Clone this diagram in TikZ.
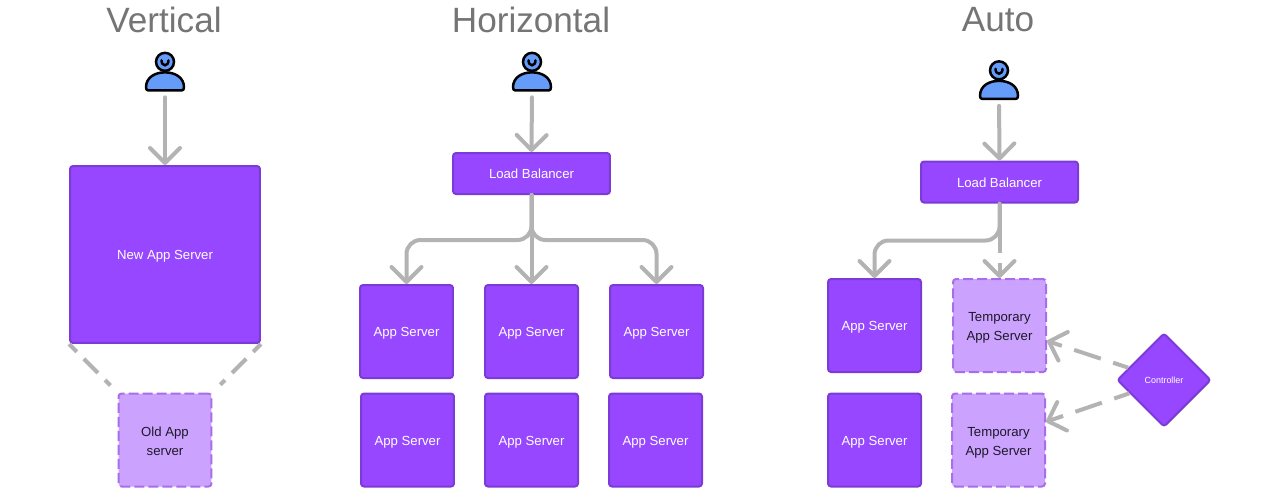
\documentclass[tikz,border=0pt]{standalone}
\usepackage{xcolor}
\usepackage{fontspec}
\setmainfont{Liberation Sans}
\usetikzlibrary{shapes.geometric, arrows.meta, positioning, calc}
\definecolor{apppurple}{RGB}{151, 71, 255}
\definecolor{appborder}{RGB}{124, 58, 214}
\definecolor{templilac}{RGB}{203, 163, 255}
\definecolor{tempborder}{RGB}{168, 108, 236}
\definecolor{linegray}{RGB}{179, 179, 179}
\definecolor{titlegray}{RGB}{117, 117, 117}
\definecolor{userblue}{RGB}{101, 156, 250}
\definecolor{labeldark}{RGB}{30, 24, 40}
\tikzset{
    titlelabel/.style={text=titlegray, font=\fontsize{20}{22}\selectfont},
    usernode/.style={inner sep=0pt, minimum width=0.8cm, minimum height=0.76cm},
    usericon/.pic={
        \draw[fill=userblue, line width=0.05cm, line join=round]
            (-19,-3) .. controls (-19,-13) and (-10,-18) .. (0,-18)
            .. controls (10,-18) and (19,-13) .. (19,-3)
            .. controls (19,-1) and (18,0) .. (17,0) -- (-17,0)
            .. controls (-18,0) and (-19,-1) .. (-19,-3) -- cycle;
        \draw[fill=userblue, line width=0.05cm] (0,-28.5) circle (9);
        \draw[line width=0.05cm, line cap=round] (-3.5,-30) .. controls (-3.5,-23.5) and (3.5,-23.5) .. (3.5,-30);
    },
    boxbase/.style={fill=apppurple, draw=appborder, line width=0.04cm, rounded corners=0.06cm,
        text=white, align=center, inner sep=0pt, minimum width=1.86cm, minimum height=1.86cm,
        font=\fontsize{7.5}{10.8}\selectfont},
    appbox/.style={boxbase, text height=6pt, text depth=0pt},
    lbbox/.style={appbox, minimum width=3.14cm, minimum height=0.82cm},
    tempbox/.style={boxbase, fill=templilac, draw=tempborder, dash pattern=on 0.2cm off 0.08cm,
        text=labeldark, text height=17.5pt, text depth=0pt},
    ctrlbox/.style={diamond, aspect=1, fill=apppurple, draw=appborder, line width=0.04cm, rounded corners=0.06cm,
        text=white, inner sep=0pt, minimum width=1.88cm, minimum height=1.88cm,
        font=\fontsize{5.1}{6}\selectfont},
    conn/.style={draw=linegray, line width=0.08cm, line cap=round,
        -{Straight Barb[length=0.3cm, width=0.6cm, round]}},
    dashconn/.style={conn, line cap=butt, dash pattern=on 0.56cm off 0.26cm, dash phase=0.24cm},
    fadeconn/.style={draw=linegray, line width=0.08cm, dash pattern=on 0.4cm off 0.2cm, dash phase=0.18cm}
}
\begin{document}
\begin{tikzpicture}[x=0.02cm, y=-0.02cm]
    \useasboundingbox (0,0) rectangle (1280,495);

    \node[titlelabel] (titleV) at (164,20) {Vertical};
    \node[titlelabel] (titleH) at (531,20) {Horizontal};
    \node[titlelabel] (titleA) at (998,20) {Auto};

    \node[usernode] (userV) at (165,71) {};
    \pic at (userV.south) {usericon};
    \node[appbox, minimum width=3.8cm, minimum height=3.54cm] (newApp) at (165,254.5) {New App Server};
    \node[tempbox] (oldApp) at (165,440) {Old App\\server};
    \draw[conn, shorten <=0.14cm] (userV.south) -- (newApp.north);
    \draw[fadeconn, shorten >=0.2cm] (newApp.south west) -- (oldApp.north west);
    \draw[fadeconn, shorten >=0.22cm] (newApp.south east) -- (oldApp.north east);

    \node[usernode] (userH) at (532,71) {};
    \pic at (userH.south) {usericon};
    \node[lbbox] (lbH) at (531.5,173.5) {Load Balancer};
    \node[appbox] (appHa) at (406.5,331.5) {App Server};
    \node[appbox] (appHb) at (531.5,331.5) {App Server};
    \node[appbox] (appHc) at (656.5,331.5) {App Server};
    \node[appbox] (appHd) at (407.5,440) {App Server};
    \node[appbox] (appHe) at (531.5,440) {App Server};
    \node[appbox] (appHf) at (655.5,440) {App Server};
    \draw[conn, shorten <=0.14cm] (userH.south) -- (lbH.north);
    \draw[conn] (lbH.south) -- (appHb.north);
    \draw[conn, rounded corners=0.28cm] (lbH.south) -- ++(0,45) -| (appHa.north);
    \draw[conn, rounded corners=0.28cm] (lbH.south) -- ++(0,45) -| (appHc.north);

    \node[usernode] (userA) at (999,79.5) {};
    \pic at (userA.south) {usericon};
    \node[lbbox] (lbA) at (999.5,182) {Load Balancer};
    \node[appbox] (appAa) at (874.5,325.5) {App Server};
    \node[tempbox] (tempAa) at (999.5,325.5) {Temporary\\App Server};
    \node[appbox] (appAb) at (874.5,440) {App Server};
    \node[tempbox] (tempAb) at (998.5,440) {Temporary\\App Server};
    \node[ctrlbox] (ctrl) at (1164,380) {Controller};
    \draw[conn, shorten <=0.14cm] (userA.south) -- (lbA.north);
    \draw[conn, rounded corners=0.28cm] (lbA.south) -- ++(0,37) -| (appAa.north);
    \draw[conn, line cap=butt, dash pattern=on 1cm off 0.2cm] (lbA.south) -- (tempAa.north);
    \draw[dashconn] (ctrl.161) -- (tempAa.-18);
    \draw[dashconn] (ctrl.201) -- (tempAb.21);
\end{tikzpicture}
\end{document}
